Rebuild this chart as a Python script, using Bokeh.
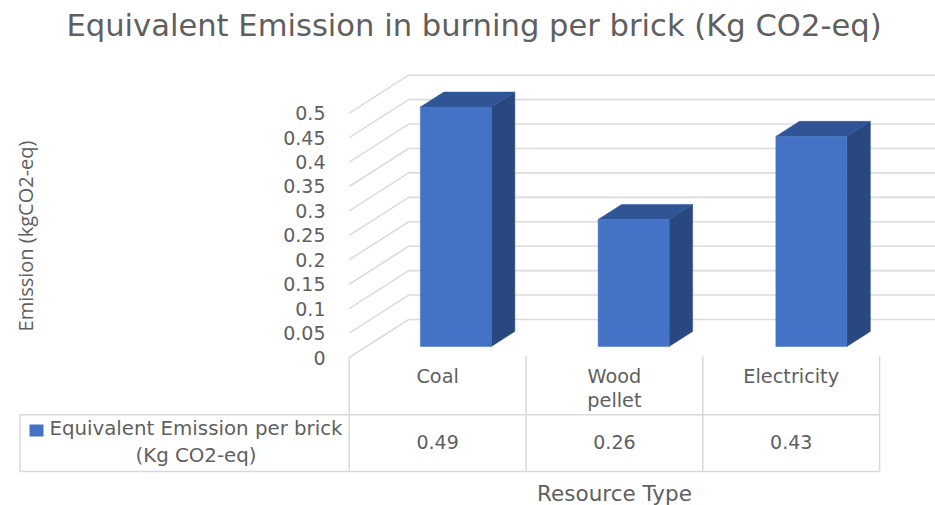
from bokeh.core.properties import value
from bokeh.embed import file_html
from bokeh.plotting import figure
from bokeh.resources import INLINE

# Chart content
title_text = "Equivalent Emission in burning per brick (Kg CO2-eq)"
y_axis_title = "Emission (kgCO2-eq)"
x_axis_title = "Resource Type"
categories = ["Coal", "Wood\npellet", "Electricity"]
emissions = [0.49, 0.26, 0.43]
emission_labels = ["0.49", "0.26", "0.43"]
y_ticks = [0, 0.05, 0.1, 0.15, 0.2, 0.25, 0.3, 0.35, 0.4, 0.45, 0.5]
y_tick_labels = ["0", "0.05", "0.1", "0.15", "0.2", "0.25", "0.3", "0.35", "0.4", "0.45", "0.5"]
legend_lines = ["Equivalent Emission per brick", "(Kg CO2-eq)"]

# Canvas and the oblique projection used for the 3-D look.
# x is in category units (one table column = 1), y is in emission units.
WIDTH, HEIGHT = 935, 505
PX_PER_CAT, PX_PER_VAL = 176.8, 488.6
X0_PX, Y0_PX = 348.7, 357.0
DEPTH_X, DEPTH_Y = 59.5 / PX_PER_CAT, 38.0 / PX_PER_VAL
BAR_HALF = 35.5 / PX_PER_CAT
BAR_PITCH = 177.75 / PX_PER_CAT
BAR_FIRST = 0.5 + 1.0 / PX_PER_CAT
BAR_NEAR, BAR_FAR = 0.29, 0.685

FONT = value("DejaVu Sans")
NARROW_FONT = value("Open Sans")
TEXT = "#5f5f5f"
GRID = "#DCDCDC"
TABLE = "#D9D9D9"
BAR_FRONT, BAR_TOP, BAR_SIDE = "#4472C4", "#2F5597", "#2A4880"


def xc(px):
    return (px - X0_PX) / PX_PER_CAT


def yv(py):
    return (Y0_PX - py) / PX_PER_VAL


def project(c, v, depth):
    return c + DEPTH_X * depth, v + DEPTH_Y * depth


p = figure(
    width=WIDTH, height=HEIGHT,
    x_range=(xc(0), xc(WIDTH)), y_range=(yv(HEIGHT), yv(0)),
    output_backend="svg", toolbar_location=None,
    min_border=0, outline_line_color=None, background_fill_color="white",
)
p.axis.visible = False
p.grid.visible = False

# Gridlines: side wall, then back wall running out to the right edge
wall_x, wall_y = [], []
for tick in y_ticks:
    x_back, y_back = project(0, tick, 1)
    wall_x.append([0, x_back, xc(WIDTH)])
    wall_y.append([tick, y_back, y_back])
p.multi_line(wall_x, wall_y, line_color=GRID, line_width=1.6)

# Data table rules
column_edges = [0, 1, 2, 3]
rule_top = yv(355.7)
row_a, row_b = yv(414.3), yv(471)
p.segment(column_edges, [rule_top] * 4, column_edges, [row_b] * 4, line_color=TABLE, line_width=1.5)
left_edge = xc(19.5)
p.segment([left_edge, left_edge, left_edge], [row_a, row_b, row_a],
          [3, 3, left_edge], [row_a, row_b, row_b], line_color=TABLE, line_width=1.5)

# Bars: front, top and side faces
front_x, front_y, top_x, top_y, side_x, side_y = [], [], [], [], [], []
for i, val in enumerate(emissions):
    centre = BAR_FIRST + i * BAR_PITCH
    left, right = centre - BAR_HALF, centre + BAR_HALF
    n_l0 = project(left, 0, BAR_NEAR)
    n_r0 = project(right, 0, BAR_NEAR)
    n_lv = project(left, val, BAR_NEAR)
    n_rv = project(right, val, BAR_NEAR)
    f_lv = project(left, val, BAR_FAR)
    f_rv = project(right, val, BAR_FAR)
    f_r0 = project(right, 0, BAR_FAR)
    front_x.append([n_l0[0], n_r0[0], n_rv[0], n_lv[0]])
    front_y.append([n_l0[1], n_r0[1], n_rv[1], n_lv[1]])
    top_x.append([n_lv[0], n_rv[0], f_rv[0], f_lv[0]])
    top_y.append([n_lv[1], n_rv[1], f_rv[1], f_lv[1]])
    side_x.append([n_r0[0], f_r0[0], f_rv[0], n_rv[0]])
    side_y.append([n_r0[1], f_r0[1], f_rv[1], n_rv[1]])
p.patches(side_x, side_y, fill_color=BAR_SIDE, line_color=BAR_SIDE, line_width=0.5)
p.patches(top_x, top_y, fill_color=BAR_TOP, line_color=BAR_TOP, line_width=0.5)
p.patches(front_x, front_y, fill_color=BAR_FRONT, line_color=BAR_FRONT, line_width=0.5)

# Value axis labels
p.text([xc(325)] * len(y_ticks), y_ticks, text=y_tick_labels, text_font=FONT, text_font_size="19px",
       text_color=TEXT, text_align="right", text_baseline="middle")

# Category names and the values row
cat_x, cat_y, cat_text = [], [], []
for i, name in enumerate(categories):
    for j, line in enumerate(name.split("\n")):
        cat_x.append(i + 0.5)
        cat_y.append(yv(376 + j * 24))
        cat_text.append(line)
p.text(cat_x, cat_y, text=cat_text, text_font=FONT, text_font_size="19.3px", text_color=TEXT,
       text_align="center", text_baseline="middle")
p.text([i + 0.5 for i in range(3)], [yv(441.7)] * 3, text=emission_labels, text_font=FONT,
       text_font_size="19px", text_color=TEXT, text_align="center", text_baseline="middle")

# Legend key inside the table's first column
p.quad(left=[xc(29)], right=[xc(43)], bottom=[yv(436)], top=[yv(424)], fill_color=BAR_FRONT, line_color=None)
p.text([xc(195.5), xc(195.5)], [yv(428), yv(455)], text=legend_lines, text_font=FONT, text_font_size="19.8px",
       text_color=TEXT, text_align="center", text_baseline="middle")

# Titles
p.text([xc(473.5)], [yv(25)], text=[title_text], text_font=FONT, text_font_size="30.6px", text_color=TEXT,
       text_align="center", text_baseline="middle")
p.text([xc(614)], [yv(493)], text=[x_axis_title], text_font=FONT, text_font_size="21.5px", text_color=TEXT,
       text_align="center", text_baseline="middle")
p.text([xc(25)], [yv(235.5)], text=[y_axis_title], text_font=NARROW_FONT, text_font_size="20px", text_color=TEXT,
       text_align="center", text_baseline="middle", angle=1.5708)

open("out.html", "w").write(file_html(p, INLINE))
